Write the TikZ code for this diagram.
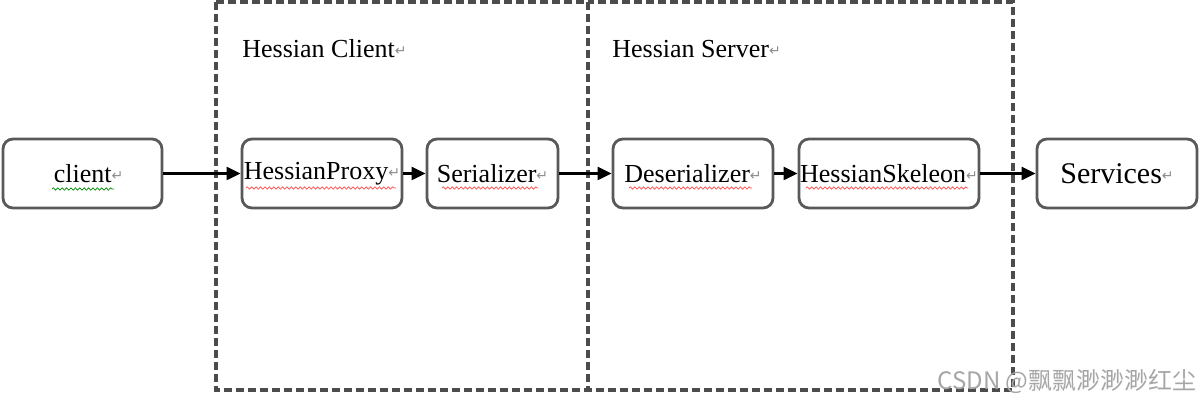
\documentclass[tikz,border=0pt]{standalone}
\usepackage{fontspec}
\setmainfont{Liberation Serif}
\newfontfamily\symfont{DejaVu Sans}
\newfontfamily\cjkfont{Noto Sans CJK SC}
\usetikzlibrary{arrows.meta,decorations.pathmorphing}
\newcommand{\pmark}{{\symfont\fontsize{7}{8}\selectfont\color{black!45}\raisebox{0.3ex}{↵}}}
\tikzset{
  stage/.style={draw=black!65, line width=1.4pt, rounded corners=5pt, fill=white,
    minimum height=34.5pt, inner sep=0pt, font=\fontsize{13}{15}\selectfont},
  region/.style={draw=black!70, line width=1.6pt, dash pattern=on 4pt off 2pt},
  flow/.style={draw=black, line width=1.1pt, -{Triangle[length=7pt,width=6.5pt]}},
  heading/.style={anchor=west, inner sep=0pt, font=\fontsize{13}{15}\selectfont},
  squigred/.style={draw=red!70, line width=0.35pt, decorate, decoration={snake, amplitude=0.6pt, segment length=2.2pt}},
  squiggreen/.style={draw=green!55!black, line width=0.35pt, decorate, decoration={snake, amplitude=0.6pt, segment length=2.2pt}},
}
\begin{document}
\begin{tikzpicture}[x=0.5pt,y=-0.5pt]
\useasboundingbox (0,0) rectangle (1201,400);
% dashed regions
\draw[region] (216,2) rectangle (588,390);
\draw[region] (588,2) rectangle (1013,390);
\node[heading] (hc) at (242,49) {Hessian Client\pmark};
\node[heading] (hs) at (612,49) {Hessian Server\pmark};
% stages
\node[stage, minimum width=79.5pt] (client) at (82.5,173.5) {\hspace{6pt}client\pmark};
\node[stage, minimum width=80pt] (proxy) at (322,173.5) {HessianProxy\pmark};
\node[stage, minimum width=65.5pt] (ser) at (492.5,173.5) {Serializer\pmark};
\node[stage, minimum width=80pt] (deser) at (693,173.5) {Deserializer\pmark};
\node[stage, minimum width=90pt] (skel) at (889,173.5) {HessianSkeleon\pmark};
\node[stage, minimum width=80pt, font=\fontsize{15}{17}\selectfont] (serv) at (1117,173.5) {Services\pmark};
% connectors
\draw[flow] (client) -- (proxy);
\draw[flow] (proxy) -- (ser);
\draw[flow] (ser) -- (deser);
\draw[flow] (deser) -- (skel);
\draw[flow] (skel) -- (serv);
% spelling squiggles
\path[squiggreen] (52,189) -- (114,189);
\path[squigred] (246,188) -- (396,188);
\path[squigred] (442,188) -- (538,188);
\path[squigred] (629,188) -- (752,188);
\path[squigred] (806,188) -- (968,188);
% watermark
\node[anchor=east, inner sep=0pt, text=black!35, font=\cjkfont\fontsize{12}{14}\selectfont] (wm) at (1197,381) {CSDN @飘飘渺渺渺红尘};
\end{tikzpicture}
\end{document}
